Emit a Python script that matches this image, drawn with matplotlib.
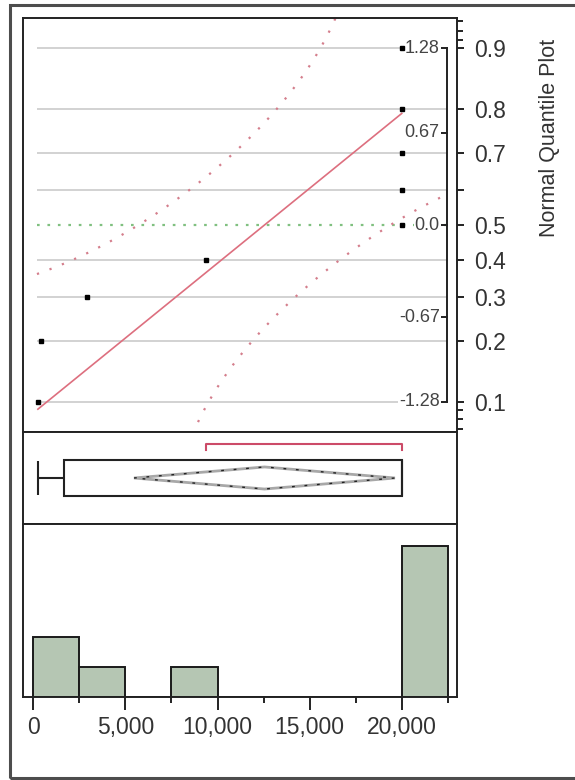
import numpy as np
import matplotlib
matplotlib.use("Agg")
import matplotlib.pyplot as plt
from matplotlib.patches import Rectangle, Polygon
from matplotlib.ticker import MultipleLocator, FuncFormatter
from statistics import NormalDist

plt.rcParams['font.family'] = ['Liberation Sans', 'DejaVu Sans']

values = np.array([250, 400, 2900, 9400, 20000, 20000, 20000, 20000, 20000])

# normal quantile plot scales
prob_ticks = [0.1, 0.2, 0.3, 0.4, 0.5, 0.6, 0.7, 0.8, 0.9]
prob_labels = ['0.1', '0.2', '0.3', '0.4', '0.5', '', '0.7', '0.8', '0.9']
prob_minor = [0.07, 0.08, 0.09, 0.91, 0.92, 0.93]
z_ticks = [-1.28, -0.67, 0.0, 0.67, 1.28]
z_labels = ['-1.28', '-0.67', '0.0', '0.67', '1.28']

# histogram / x axis
bin_edges = np.arange(0, 22501, 2500)
x_ticks = [0, 5000, 10000, 15000, 20000]
shortest_half = [9400, 20000]

t_crit = 2.306      # t(0.975, df=8)
lillie_d = 0.271    # Lilliefors 95% critical value, n=9

nd = NormalDist()
W, H = 575, 780
fig = plt.figure(figsize=(W / 100, H / 100), dpi=100)


def px_axes(x0, y0, x1, y1):
    return fig.add_axes([x0 / W, 1 - y1 / H, (x1 - x0) / W, (y1 - y0) / H])


ax_q = px_axes(22.7, 18, 457, 432)
ax_b = px_axes(22.7, 432, 457, 524)
ax_h = px_axes(22.7, 524, 457, 697)
xlim = (-575, 23000)
frame_col = '#222222'
text_col = '#333333'
red = '#dd6f7f'

for ax in (ax_q, ax_b, ax_h):
    ax.set_xlim(xlim)
    for s in ax.spines.values():
        s.set_linewidth(1.4)
        s.set_color(frame_col)

# ---- stats
n = len(values)
srt = np.sort(values)
pp = np.arange(1, n + 1) / (n + 1)
zq = np.array([nd.inv_cdf(p) for p in pp])
mean = values.mean()
sd = values.std(ddof=1)


def jmp_quantile(p):
    r = p * (n + 1)
    lo = int(np.floor(r))
    frac = r - lo
    lo = min(max(lo, 1), n)
    hi = min(lo + 1, n)
    return srt[lo - 1] + frac * (srt[hi - 1] - srt[lo - 1])


q1, med, q3 = jmp_quantile(0.25), jmp_quantile(0.5), jmp_quantile(0.75)
iqr = q3 - q1
w_lo = srt[srt >= q1 - 1.5 * iqr].min()
w_hi = srt[srt <= q3 + 1.5 * iqr].max()
half_ci = t_crit * sd / np.sqrt(n)

# ---- normal quantile plot
ax_q.set_ylim(-1.5, 1.5)
gx0, gx1 = 200, 22450
for p in prob_ticks:
    zp = nd.inv_cdf(p)
    if p == 0.5:
        ax_q.hlines(zp, gx0, gx1, color='#80c080', lw=1.6, linestyle=(0, (1.2, 3.5)), zorder=1)
    else:
        ax_q.hlines(zp, gx0, gx1, color='#cfcfcf', lw=1.3, zorder=1)

xs = np.linspace(gx0, gx1, 400)
Fx = np.array([nd.cdf((x - mean) / sd) for x in xs])
for sign in (1, -1):
    pb = Fx + sign * lillie_d
    ok = (pb > 1e-6) & (pb < 1 - 1e-6)
    zb = np.array([nd.inv_cdf(v) for v in pb[ok]])
    ax_q.plot(xs[ok], zb, color='#d47e8c', lw=1.6, linestyle=(0, (1, 5)), zorder=2)

lx = np.array([srt[0], srt[-1]])
ax_q.plot(lx, (lx - mean) / sd, color=red, lw=1.2, zorder=3)

# inner z-score axis
tr = ax_q.get_yaxis_transform()
ax_q.plot([0.977, 0.977], [z_ticks[0], z_ticks[-1]], color=frame_col, lw=1.4, transform=tr, zorder=4)
for zt, zl in zip(z_ticks, z_labels):
    ax_q.plot([0.963, 0.977], [zt, zt], color=frame_col, lw=1.4, transform=tr, zorder=4)
    ax_q.text(0.960, zt, zl, transform=tr, ha='right', va='center', fontsize=13,
              color='#444444', zorder=4,
              bbox=dict(boxstyle='square,pad=0.05', fc='white', ec='none'))

ax_q.plot(srt, zq, 's', ms=3.5, color='black', zorder=6)

ax_q.set_xticks([])
ax_q.yaxis.tick_right()
ax_q.set_yticks([nd.inv_cdf(p) for p in prob_ticks])
ax_q.set_yticklabels(prob_labels)
ax_q.set_yticks([nd.inv_cdf(p) for p in prob_minor], minor=True)
ax_q.tick_params(axis='y', which='major', direction='out', length=5, width=1.4,
                 color=frame_col, labelsize=16.5, labelcolor=text_col, pad=7)
ax_q.tick_params(axis='y', which='minor', direction='out', length=4, width=1.4, color=frame_col)
fig.text(549 / W, 1 - 138 / H, 'Normal Quantile Plot', rotation=90, ha='center', va='center',
         fontsize=15.5, color=text_col)

# ---- outlier box plot
ax_b.set_ylim(0, 1)
ax_b.set_xticks([])
ax_b.set_yticks([])
ax_b.add_patch(Rectangle((q1, 0.304), q3 - q1, 0.392, fill=False, lw=1.5, ec=frame_col))
ax_b.vlines(med, 0.304, 0.696, color=frame_col, lw=1.5)
ax_b.hlines(0.5, w_lo, q1, color=frame_col, lw=1.5)
ax_b.vlines(w_lo, 0.31, 0.69, color=frame_col, lw=1.5)
if w_hi > q3:
    ax_b.hlines(0.5, q3, w_hi, color=frame_col, lw=1.5)
    ax_b.vlines(w_hi, 0.31, 0.69, color=frame_col, lw=1.5)
diamond = [(mean - half_ci, 0.5), (mean, 0.62), (mean + half_ci, 0.5), (mean, 0.38)]
ax_b.add_patch(Polygon(diamond, closed=True, fill=False, ec='#a8a8a8', lw=2.0))
ax_b.add_patch(Polygon(diamond, closed=True, fill=False, ec='#222222', lw=1.0,
                       linestyle=(0, (2, 7))))
ax_b.plot([shortest_half[0], shortest_half[0], shortest_half[1], shortest_half[1]],
          [0.80, 0.87, 0.87, 0.80], color='#cc4b68', lw=1.5)

# ---- histogram
ax_h.hist(values, bins=bin_edges, color='#b5c6b3', edgecolor='#1a1a1a', lw=1.4)
ax_h.set_ylim(0, 5.73)
ax_h.set_yticks([])
ax_h.set_xticks(x_ticks)
ax_h.xaxis.set_minor_locator(MultipleLocator(2500))
ax_h.xaxis.set_major_formatter(FuncFormatter(lambda v, pos: f'{int(v):,}'))
ax_h.tick_params(axis='x', which='major', direction='out', length=9, width=1.4,
                 color=frame_col, labelsize=16.5, labelcolor=text_col, pad=5)
ax_h.tick_params(axis='x', which='minor', direction='out', length=4.5, width=1.4, color=frame_col)

# outer report frame
fig.add_artist(Rectangle((10 / W, 1 - 778 / H), 580 / W, 773 / H, transform=fig.transFigure,
                         fill=False, ec='#4d4d4d', lw=2.2))

fig.savefig('out.png', dpi=100)
